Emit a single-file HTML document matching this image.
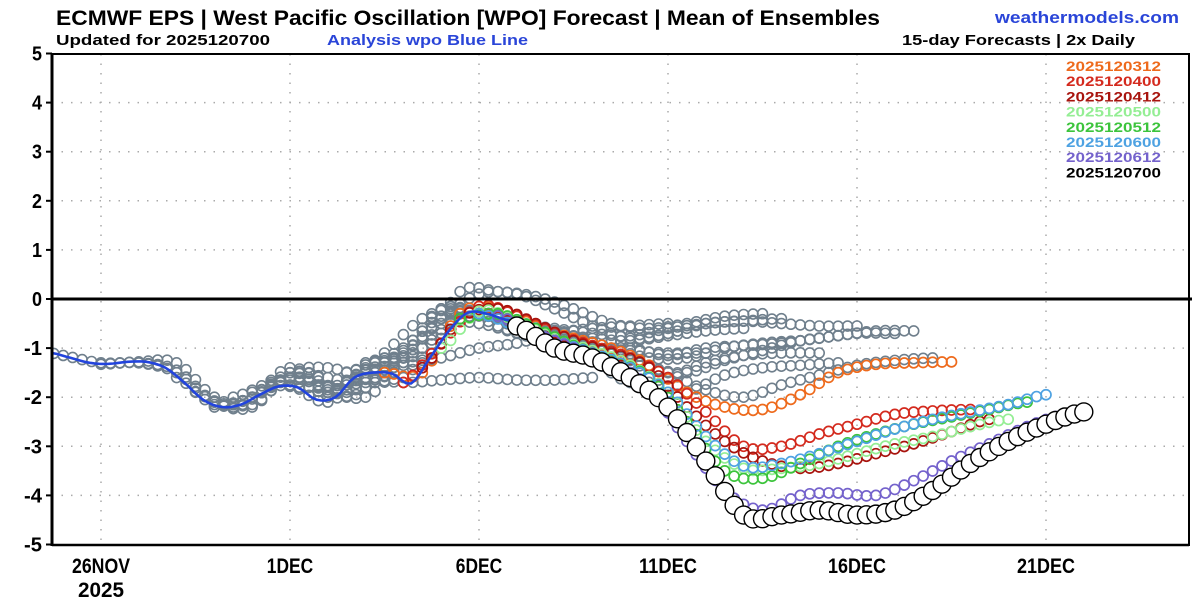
<!DOCTYPE html>
<html><head><meta charset="utf-8"><style>
html,body{margin:0;padding:0;background:#fff;}
svg{display:block;font-family:"Liberation Sans",sans-serif;}
</style></head><body>
<svg id="chart" width="1200" height="600" viewBox="0 0 1200 600" xmlns="http://www.w3.org/2000/svg">
<text x="56" y="25" font-size="21" font-weight="bold" textLength="824" lengthAdjust="spacingAndGlyphs">ECMWF EPS | West Pacific Oscillation [WPO] Forecast | Mean of Ensembles</text>
<text x="995" y="23" font-size="17" font-weight="bold" fill="#2a45d8" textLength="184" lengthAdjust="spacingAndGlyphs">weathermodels.com</text>
<text x="56" y="45" font-size="15" font-weight="bold" textLength="214" lengthAdjust="spacingAndGlyphs">Updated for 2025120700</text>
<text x="327" y="45" font-size="15" font-weight="bold" fill="#2a45d8" textLength="201" lengthAdjust="spacingAndGlyphs">Analysis wpo Blue Line</text>
<text x="902" y="45" font-size="15" font-weight="bold" textLength="233" lengthAdjust="spacingAndGlyphs">15-day Forecasts | 2x Daily</text>
<g id="grid"></g>
<g id="marks"></g>
<g id="axes"></g>
<g id="legend"></g>
</svg>
<script>
// ---- data ----
const yTicks = [5,4,3,2,1,0,-1,-2,-3,-4,-5];
const xTickDays = [0,5,10,15,20,25]; // days after 26 Nov
const xTickLabels = ["26NOV","1DEC","6DEC","11DEC","16DEC","21DEC"];
const analysisStart = -1.3; // day offset, half-day steps
const analysisValues = [-1.1,-1.2,-1.3,-1.32,-1.28,-1.28,-1.4,-1.7,-2.05,-2.2,-2.15,-1.95,-1.78,-1.8,-2.05,-2.0,-1.6,-1.5,-1.52,-1.72,-1.2,-0.65,-0.28,-0.3,-0.42,-0.5];
const grayStarts = [-2,0,1,2,2.5,3,3.5,4,4.5,5,6,6.5,7];
const gray1 = [-1.0,-1.15,-1.3,-1.3,-1.45,-2.1,-2.2,-1.5,-1.4,-1.6,-1.7,-1.65,-1.6,-1.65,-1.65,-1.6];
const gray2 = [-1.33,-1.28,-1.3,-2.0,-2.15,-1.6,-1.85,-2.0,-1.35,-1.2,-1.0,-0.9,-0.7,-0.6,-0.55,-0.5];
const gray3 = [-1.3,-1.5,-2.1,-2.0,-1.5,-1.6,-1.7,-1.1,-0.5,-0.5,-0.7,-0.9,-1.0,-1.05,-1.1,-1.1];
const gray4 = [-1.6,-2.15,-2.0,-1.6,-1.8,-1.8,-1.2,-0.2,-0.3,-0.5,-0.7,-0.8,-0.85,-0.75,-0.65,-0.6];
const gray5 = [-1.9,-2.2,-1.8,-1.5,-2.0,-1.5,-1.0,0.15,0.15,0.05,-0.2,-0.5,-0.6,-0.5,-0.35,-0.3];
const gray6 = [-2.2,-2.0,-1.4,-1.9,-1.5,-1.2,-0.4,0.1,0.1,-0.2,-0.55,-0.8,-0.7,-0.5,-0.45,-0.4];
const gray7 = [-2.0,-1.7,-1.6,-1.9,-1.3,-1.0,-0.3,-0.4,-0.55,-0.75,-1.0,-1.2,-1.2,-1.0,-0.9,-0.85];
const gray8 = [-1.9,-1.65,-1.9,-1.4,-1.0,-0.35,-0.25,-0.6,-0.9,-1.25,-1.7,-1.6,-1.3,-1.15,-1.1,-1.1];
const gray9 = [-1.75,-1.8,-1.7,-1.1,-0.4,-0.2,-0.55,-0.8,-1.0,-1.3,-1.9,-1.9,-1.55,-1.4,-1.35,-1.3];
const gray10 = [-1.75,-2.1,-1.5,-1.05,-0.2,-0.3,-0.5,-0.6,-0.7,-0.75,-0.6,-0.5,-0.45,-0.5,-0.55,-0.55];
const gray11 = [-2.0,-1.3,-1.2,-0.4,-0.25,-0.55,-0.8,-1.0,-1.0,-1.15,-1.0,-0.95,-0.9,-0.8,-0.7,-0.7];
const gray12 = [-1.5,-1.2,-1.3,-0.3,-0.35,-0.6,-0.85,-1.2,-1.4,-1.5,-1.25,-1.05,-0.85,-0.75,-0.65,-0.65];
const gray13 = [-1.45,-1.6,-0.7,-0.3,-0.45,-0.75,-1.0,-1.25,-1.5,-1.85,-2.0,-1.75,-1.55,-1.35,-1.25,-1.2];
const runNames = ["2025120312","2025120400","2025120412","2025120500","2025120512","2025120600","2025120612","2025120700"];
const runColors = ["#ee6a1c","#d42a1e","#a8140e","#94ee94","#3cc43c","#4ea2e2","#7462cc","#000000"];
const runStarts = [7.5,8,8.5,9,9.5,10,10.5,11];
const run0312 = [-1.5,-1.5,-0.3,-0.2,-0.55,-0.8,-1.0,-1.35,-1.9,-2.2,-2.25,-1.95,-1.5,-1.33,-1.3,-1.28];
const run0400 = [-1.7,-0.9,-0.15,-0.35,-0.7,-0.95,-1.2,-1.6,-2.3,-3.0,-3.0,-2.75,-2.55,-2.35,-2.28,-2.25];
const run0412 = [-1.4,-0.4,-0.2,-0.5,-0.85,-1.1,-1.4,-2.2,-2.9,-3.3,-3.45,-3.35,-3.15,-2.95,-2.7,-2.45];
const run0500 = [-1.0,-0.25,-0.45,-0.8,-1.05,-1.35,-1.9,-2.9,-3.45,-3.45,-3.35,-3.15,-2.95,-2.8,-2.6,-2.45];
const run0512 = [-0.4,-0.3,-0.6,-0.95,-1.25,-1.6,-2.5,-3.5,-3.65,-3.35,-3.0,-2.75,-2.55,-2.4,-2.25,-2.1];
const run0600 = [-0.3,-0.55,-0.85,-1.1,-1.4,-1.9,-2.8,-3.4,-3.35,-3.15,-2.9,-2.65,-2.45,-2.3,-2.15,-1.95];
const run0612 = [-0.35,-0.7,-1.0,-1.3,-1.8,-2.9,-3.9,-4.3,-4.0,-3.95,-4.0,-3.7,-3.3,-2.95,-2.6,-2.35];
const run0700 = [-0.55,-1.0,-1.2,-1.6,-2.2,-3.3,-4.4,-4.4,-4.3,-4.4,-4.3,-3.9,-3.35,-2.9,-2.55,-2.3];

// ---- scales ----
const X0=52,X1=1189,Y0=54,Y1=545;
const xs = d => 101 + 37.8*d;
const ys = v => 299 - 49.1*v;
const NS="http://www.w3.org/2000/svg";
function mk(tag, parent, attrs){const e=document.createElementNS(NS,tag);for(const k in attrs)e.setAttribute(k,attrs[k]);parent.appendChild(e);return e;}
function spline(vals, t){ // catmull-rom, t in index units
  const n=vals.length; const i=Math.min(Math.floor(t),n-2); const f=t-i;
  const p0=vals[Math.max(i-1,0)],p1=vals[i],p2=vals[i+1],p3=vals[Math.min(i+2,n-1)];
  return 0.5*((2*p1)+(-p0+p2)*f+(2*p0-5*p1+4*p2-p3)*f*f+(-p0+3*p1-3*p2+p3)*f*f*f);
}
const grid=document.getElementById('grid'), marks=document.getElementById('marks'), axes=document.getElementById('axes'), legend=document.getElementById('legend');
mk('clipPath', document.getElementById('chart'), {id:'clip'}).appendChild(Object.assign(document.createElementNS(NS,'rect'),{}));
document.querySelector('#clip rect').setAttribute('x',X0);document.querySelector('#clip rect').setAttribute('y',Y0);
document.querySelector('#clip rect').setAttribute('width',X1-X0);document.querySelector('#clip rect').setAttribute('height',Y1-Y0);
marks.setAttribute('clip-path','url(#clip)');

yTicks.forEach(v=>{
  if(v!==0 && v!==5 && v!==-5){
    const l=mk('line',grid,{x1:X0,x2:X1,y1:ys(v),y2:ys(v),stroke:'#aaa','stroke-width':1.5,'stroke-dasharray':'1.5 8'});
    
    
  }
  const t=mk('text',axes,{x:42,y:ys(v)+7,'text-anchor':'end','font-size':20,'font-weight':'bold',textLength:v<0?18:10,lengthAdjust:'spacingAndGlyphs'});
  t.textContent=String(v);
  
  
  const tk=mk('line',axes,{x1:X0-6,x2:X0,y1:ys(v),y2:ys(v),stroke:'#000','stroke-width':2});
  
  
});
xTickDays.forEach((d,i)=>{
  const l=mk('line',grid,{x1:xs(d),x2:xs(d),y1:Y0,y2:Y1,stroke:'#aaa','stroke-width':1.5,'stroke-dasharray':'1.5 8'});
  
  
  const t=mk('text',axes,{x:xs(d),y:573,'text-anchor':'middle','font-size':21,'font-weight':'bold',textLength:xTickLabels[i].length*11.6,lengthAdjust:'spacingAndGlyphs'});
  t.textContent=xTickLabels[i];
  
  
});
const yr=mk('text',axes,{x:xs(0),y:597,'text-anchor':'middle','font-size':21,'font-weight':'bold',textLength:46,lengthAdjust:'spacingAndGlyphs'});
yr.textContent='2025';



function drawRun(vals,start,color,r,fill,sw,name){
  const g=mk('g',marks,{});
  
  
  const steps=(vals.length-1)*4;
  for(let k=0;k<=steps;k++){
    const t=k/4; const v=spline(vals,t);
    const c=mk('circle',g,{cx:xs(start+t),cy:ys(v),r:r,fill:fill,stroke:color,'stroke-width':sw});
    
    
  }
}
const grays=[gray1,gray2,gray3,gray4,gray5,gray6,gray7,gray8,gray9,gray10,gray11,gray12,gray13];
grays.forEach((g,i)=>drawRun(g,grayStarts[i],'#6f7f8c',5,'none',1.6,'older-forecast-'+(i+1)));
const runs=[run0312,run0400,run0412,run0500,run0512,run0600,run0612];
runs.forEach((r,i)=>drawRun(r,runStarts[i],runColors[i],5,'none',1.7,'forecast-'+runNames[i]));
// analysis line
let pts=[];
const aSteps=(analysisValues.length-1)*4;
for(let k=0;k<=aSteps;k++){const t=k/4;pts.push(xs(analysisStart+t*0.5).toFixed(1)+','+ys(spline(analysisValues,t)).toFixed(1));}
const al=mk('polyline',marks,{points:pts.join(' '),fill:'none',stroke:'#2244dd','stroke-width':2.6,'stroke-linejoin':'round'});


drawRun(run0700,runStarts[7],'#000',9,'#fff',1.4,'forecast-'+runNames[7]);

// axes frame
const zl=mk('line',axes,{x1:X0,x2:1192,y1:ys(0),y2:ys(0),stroke:'#000','stroke-width':3});


const fr=mk('rect',axes,{x:X0,y:Y0,width:X1-X0,height:Y1-Y0,fill:'none',stroke:'#000','stroke-width':2});


const la=mk('line',axes,{x1:X0,x2:X0,y1:Y0,y2:Y1+1,stroke:'#000','stroke-width':3});


const ba=mk('line',axes,{x1:X0,x2:X1,y1:Y1,y2:Y1,stroke:'#000','stroke-width':2.5});



runNames.forEach((n,i)=>{
  const t=mk('text',legend,{x:1066,y:71+i*15.2,'font-size':14,'font-weight':'bold',fill:runColors[i],textLength:95,lengthAdjust:'spacingAndGlyphs'});
  t.textContent=n;
  
  
});
</script>
</body></html>
